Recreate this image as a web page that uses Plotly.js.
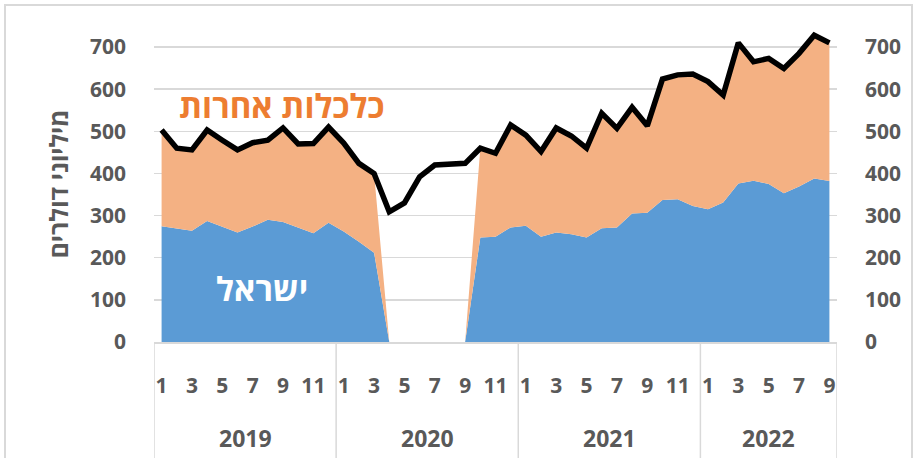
<!DOCTYPE html>
<html>
<head>
<meta charset="utf-8">
<script src="https://cdn.plot.ly/plotly-3.0.1.min.js"></script>
<style>
html,body{margin:0;padding:0;background:#fff;}
#chart{width:917px;height:458px;}
</style>
</head>
<body>
<div id="chart"></div>
<script>
// Month of each point (Jan 2019 - Sep 2022)
const months = ["1","2","3","4","5","6","7","8","9","10","11","12",
                "1","2","3","4","5","6","7","8","9","10","11","12",
                "1","2","3","4","5","6","7","8","9","10","11","12",
                "1","2","3","4","5","6","7","8","9"];
const years = ["2019","2020","2021","2022"];
const yearStart = [0, 12, 24, 36];
const yearEnd = [11, 23, 35, 44];

// Israel (blue area), million USD
const israel = [275,270,264,287,274,260,274,290,285,272,258,283,
                262,238,212,0,0,0,0,0,0,248,250,272,
                276,250,260,256,248,270,272,305,307,337,339,323,
                315,331,376,383,375,353,369,388,382];
// Other economies (orange area), million USD
const other = [228,190,192,216,205,196,199,189,223,198,213,227,
               210,186,188,0,0,0,0,0,0,212,198,243,
               215,202,248,233,212,273,235,252,206,287,295,313,
               303,255,334,282,298,296,316,340,328];
// Total (black line), million USD
const total = [503,460,456,503,479,456,473,479,508,470,471,510,
               472,424,400,309,330,392,420,423,424,460,448,515,
               491,452,508,489,460,543,507,557,513,624,634,636,
               618,586,710,665,673,649,685,728,710];

const idx = months.map((m, i) => i);
const tickvals = idx.filter(i => parseInt(months[i]) % 2 === 1);
const ticktext = tickvals.map(i => months[i]);

const FONT = "Open Sans, DejaVu Sans, sans-serif";
const GRAY = "#595959";

const traces = [
  {x: idx, y: israel, type: "scatter", mode: "lines", stackgroup: "a",
   line: {width: 0, color: "#5B9BD5"}, fillcolor: "#5B9BD5", hoverinfo: "skip"},
  {x: idx, y: other, type: "scatter", mode: "lines", stackgroup: "a",
   line: {width: 0, color: "#F4B183"}, fillcolor: "#F4B183", hoverinfo: "skip"},
  {x: idx, y: total, type: "scatter", mode: "lines",
   line: {width: 5.5, color: "#000000"}, hoverinfo: "skip"},
  {x: idx, y: total, type: "scatter", mode: "lines", yaxis: "y2",
   line: {width: 0}, opacity: 0, hoverinfo: "skip"}
];

const shapes = [];
const divX = [-0.5, 11.5, 23.5, 35.5, 44.5];
divX.forEach(v => shapes.push({type: "line", xref: "x", yref: "paper",
  x0: v, x1: v, y0: 0, y1: -0.37, line: {color: "#D9D9D9", width: 1.5}}));
// chart frame
shapes.push({type: "rect", xref: "paper", yref: "paper",
  x0: (5 - 154) / 683, x1: (912 - 154) / 683, y0: -0.4, y1: (342 - 5) / 316,
  line: {color: "#D9D9D9", width: 2}, fillcolor: "rgba(0,0,0,0)", layer: "below"});

const annotations = years.map((y, k) => ({
  text: y, xref: "x", yref: "paper",
  x: (yearStart[k] + yearEnd[k]) / 2, y: -0.304,
  showarrow: false, yanchor: "middle",
  font: {family: FONT, size: 23, color: GRAY, weight: 700}
}));
annotations.push({text: "כלכלות אחרות", xref: "x", yref: "y", x: 7.9, y: 562,
  showarrow: false, font: {family: FONT, size: 33, color: "#ED7D31", weight: 700}});
annotations.push({text: "ישראל", xref: "x", yref: "y", x: 6.6, y: 128,
  showarrow: false, font: {family: FONT, size: 33, color: "#FFFFFF", weight: 700}});

const yax = {
  range: [0, 750], tickvals: [0,100,200,300,400,500,600,700],
  showgrid: true, gridcolor: "#D9D9D9", gridwidth: 1.5, zeroline: false,
  tickfont: {family: FONT, size: 21, color: GRAY, weight: 700},
  ticklabelstandoff: 27, fixedrange: true
};

const layout = {
  width: 917, height: 458,
  margin: {l: 154, r: 80, t: 26, b: 116},
  paper_bgcolor: "#ffffff", plot_bgcolor: "#ffffff",
  showlegend: false,
  xaxis: {
    range: [-0.5, 44.5], tickvals: tickvals, ticktext: ticktext,
    showgrid: false, zeroline: false, showline: true, linecolor: "#D9D9D9", linewidth: 1.5,
    tickfont: {family: FONT, size: 21, color: GRAY, weight: 700},
    ticklabelstandoff: 24, tickangle: 0, fixedrange: true
  },
  yaxis: Object.assign({}, yax, {
    title: {text: "מיליוני דולרים", standoff: 14,
            font: {family: FONT, size: 25, color: GRAY, weight: 700}}
  }),
  yaxis2: Object.assign({}, yax, {overlaying: "y", side: "right", showgrid: false}),
  shapes: shapes,
  annotations: annotations
};

Plotly.newPlot("chart", traces, layout, {displayModeBar: false, staticPlot: true});
</script>
</body>
</html>
